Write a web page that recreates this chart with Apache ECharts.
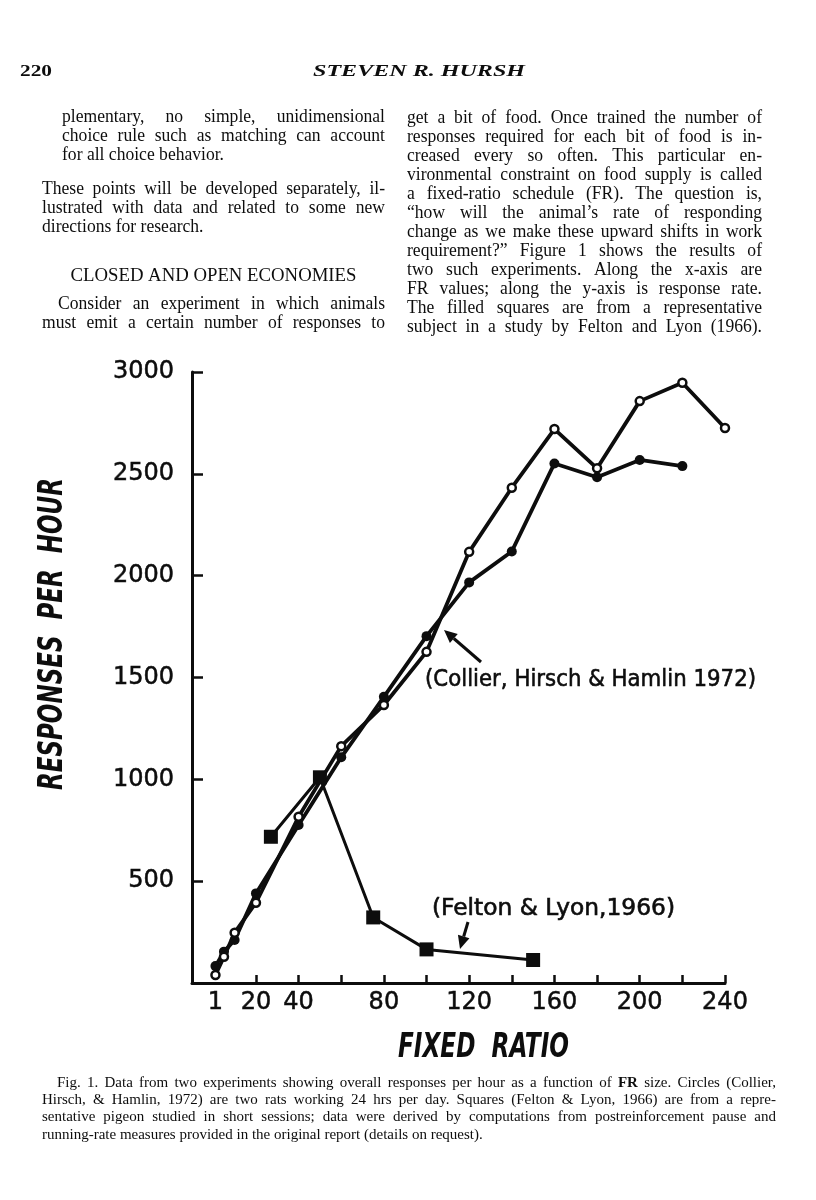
<!DOCTYPE html>
<html>
<head>
<meta charset="utf-8">
<script src="https://cdn.jsdelivr.net/npm/echarts@6/dist/echarts.min.js"></script>
<style>
html,body{margin:0;padding:0;background:#fff;}
#c{width:816px;height:1200px;}
</style>
</head>
<body>
<div id="c"></div>
<script>
// ---------------- DATA ----------------
// Collier, Hirsch & Hamlin (1972) rat 1 (open circles)
const frOpen   = [1, 5, 10, 20, 40, 60, 80, 100, 120, 140, 160, 180, 200, 220, 240];
const rateOpen = [39, 129, 247, 394, 816, 1163, 1365, 1626, 2117, 2432, 2720, 2527, 2857, 2947, 2725];
// Collier, Hirsch & Hamlin (1972) rat 2 (filled circles)
const frFilled   = [1, 5, 10, 20, 40, 60, 80, 100, 120, 140, 160, 180, 200, 220];
const rateFilled = [83, 154, 211, 440, 776, 1108, 1405, 1703, 1967, 2119, 2551, 2483, 2568, 2538];
// Felton & Lyon (1966) pigeon (filled squares)
const frSquare   = [27, 50, 75, 100, 150];
const rateSquare = [718, 1010, 322, 165, 113];

const xTickValues  = [20, 40, 60, 80, 100, 120, 140, 160, 180, 200, 220, 240];
const xLabelValues = [1, 20, 40, 80, 120, 160, 200, 240];
const yLabelValues = [500, 1000, 1500, 2000, 2500, 3000];

const xTitle = 'FIXED  RATIO';
const yTitle = 'RESPONSES  PER  HOUR';
const noteCollier = '(Collier, Hirsch & Hamlin 1972)';
const noteFelton = '(Felton & Lyon,1966)';

const headerPage = '220';
const headerAuthor = 'STEVEN R. HURSH';

const leftCol = [
  {t:'plementary, no simple, unidimensional', j:true, ind:20},
  {t:'choice rule such as matching can account', j:true, ind:20},
  {t:'for all choice behavior.', j:false, ind:20},
  {gap:15},
  {t:'These points will be developed separately, il-', j:true, ind:0},
  {t:'lustrated with data and related to some new', j:true, ind:0},
  {t:'directions for research.', j:false, ind:0},
  {gap:30},
  {t:'CLOSED AND OPEN ECONOMIES', c:true, w:286},
  {gap:9},
  {t:'Consider an experiment in which animals', j:true, ind:16},
  {t:'must emit a certain number of responses to', j:true, ind:0}
];
const rightCol = [
  'get a bit of food. Once trained the number of',
  'responses required for each bit of food is in-',
  'creased every so often. This particular en-',
  'vironmental constraint on food supply is called',
  'a fixed-ratio schedule (FR). The question is,',
  '\u201Chow will the animal\u2019s rate of responding',
  'change as we make these upward shifts in work',
  'requirement?\u201D Figure 1 shows the results of',
  'two such experiments. Along the x-axis are',
  'FR values; along the y-axis is response rate.',
  'The filled squares are from a representative',
  'subject in a study by Felton and Lyon (1966).'
];
const caption = [
  {t:'Fig. 1. Data from two experiments showing overall responses per hour as a function of **FR size. Circles (Collier,', j:true, ind:15},
  {t:'Hirsch, & Hamlin, 1972) are two rats working 24 hrs per day. Squares (Felton & Lyon, 1966) are from a repre-', j:true, ind:0},
  {t:'sentative pigeon studied in short sessions; data were derived by computations from postreinforcement pause and', j:true, ind:0},
  {t:'running-rate measures provided in the original report (details on request).', j:false, ind:0}
];

// ---------------- TEXT HELPERS ----------------
const INK = '#0d0d0d';
const mctx = document.createElement('canvas').getContext('2d');
function fstr(f){ return (f.style||'normal')+' '+(f.weight||'normal')+' '+f.size+'px '+f.family; }
function mw(text, f){ mctx.font = fstr(f); return mctx.measureText(text).width; }
function txt(str, x, y, f, extra){
  const st = {text:str, font:fstr(f), fill:INK, textAlign:'left', textVerticalAlign:'middle'};
  if (f.stroke) { st.stroke = INK; st.lineWidth = f.stroke; }
  const e = {type:'text', x:x, y:y, silent:true, z:100, style:st};
  if (extra) Object.assign(e, extra);
  return e;
}
function fitText(str, x, y, width, f, extra){
  const w = mw(str, f);
  return txt(str, x, y, f, Object.assign({scaleX: width / w}, extra||{}));
}
function lineWords(str, x0, x1, y, f, justify, out){
  const cond = f.cond || 1;
  const words = str.split(' ').filter(s=>s.length);
  const fonts = words.map(w => w.startsWith('**') ? Object.assign({}, f, {weight:'bold'}) : f);
  const clean = words.map(w => w.replace(/^\*\*/, ''));
  const ws = clean.map((w,i)=>mw(w, fonts[i]) * cond);
  const sum = ws.reduce((a,b)=>a+b,0);
  const n = words.length;
  const space = mw(' ', f) * cond;
  let gap = space, s = 1;
  if (justify && n > 1) {
    gap = (x1 - x0 - sum) / (n - 1);
    if (gap < space*0.8) { gap = space*0.8; s = (x1 - x0 - gap*(n-1)) / sum; }
  } else {
    const tot = sum + space*(n-1);
    if (tot > x1 - x0) s = (x1 - x0 - space*(n-1)) / sum;
  }
  let x = x0;
  clean.forEach((w,i)=>{
    out.push(txt(w, x, y, fonts[i], {scaleX:s*cond}));
    x += ws[i]*s + gap;
  });
}

const bodyFont = {family:'Liberation Serif', size:18.5, cond:0.95};
const capFont = {family:'Liberation Serif', size:15, cond:1.0};
const graphics = [];

// header
graphics.push(fitText(headerPage, 20, 72, 32, {family:'Liberation Serif', size:17, weight:'bold'}));
graphics.push(fitText(headerAuthor, 313, 72, 212, {family:'Liberation Serif', size:17, style:'italic', weight:'bold'}));

// left column
(function(){
  const L = 42, R = 385, lh = 19;
  let y = 117;
  leftCol.forEach(l=>{
    if (l.gap !== undefined) { y += l.gap; return; }
    if (l.c) {
      graphics.push(fitText(l.t, (L+R)/2 - l.w/2, y, l.w, bodyFont));
    } else {
      lineWords(l.t, L + l.ind, R, y, bodyFont, l.j, graphics);
    }
    y += lh;
  });
})();
// right column
(function(){
  const L = 407, R = 762, lh = 19;
  rightCol.forEach((t,i)=> lineWords(t, L, R, 118 + i*lh, bodyFont, true, graphics));
})();
// caption
(function(){
  const L = 42, R = 776, lh = 17.2;
  caption.forEach((l,i)=> lineWords(l.t, L + l.ind, R, 1083 + i*lh, capFont, l.j, graphics));
})();

// axis titles
const titleFont = {family:'DejaVu Sans Condensed', size:34, weight:'bold', style:'italic'};
graphics.push(fitText(xTitle, 398, 1048, 171, {family:'DejaVu Sans Condensed', size:33, weight:'bold', style:'italic'}));
graphics.push(fitText(yTitle, 53, 790, 312, titleFont, {rotation: Math.PI/2}));

// annotations
const noteFont = {family:'DejaVu Sans', size:23, stroke:0.6};
graphics.push(fitText(noteCollier, 425, 680, 331, noteFont));
graphics.push(fitText(noteFelton, 432, 909, 243, noteFont));

function arrow(x0,y0,x1,y1,out){
  const dx = x1-x0, dy = y1-y0, L = Math.hypot(dx,dy), ux = dx/L, uy = dy/L;
  const hl = 13, hw = 6;
  const bx = x1 - ux*hl, by = y1 - uy*hl;
  out.push({type:'line', silent:true, z:100, shape:{x1:x0,y1:y0,x2:bx,y2:by}, style:{stroke:INK, lineWidth:3}});
  out.push({type:'polygon', silent:true, z:100, shape:{points:[[x1,y1],[bx - uy*hw, by + ux*hw],[bx + uy*hw, by - ux*hw]]}, style:{fill:INK}});
}
arrow(481, 662, 444, 630, graphics);
arrow(468, 922, 460, 949, graphics);

// ---------------- CHART ----------------
const chart = echarts.init(document.getElementById('c'), null, {renderer:'canvas'});
const axisFont = {fontFamily:'DejaVu Sans', fontSize:24, color:INK, textBorderColor:INK, textBorderWidth:0.5};
chart.setOption({
  backgroundColor:'#ffffff',
  animation:false,
  grid:{left:192, top:372, width:533, height:611, containLabel:false, outerBoundsMode:'none'},
  xAxis:{
    type:'value', min:-10, max:240,
    axisLine:{onZero:false, lineStyle:{color:INK, width:3}},
    axisTick:{show:true, inside:true, length:8, customValues:xTickValues, lineStyle:{color:INK, width:2.5}},
    axisLabel:Object.assign({customValues:xLabelValues, margin:8, formatter:v=>String(v)}, axisFont),
    splitLine:{show:false}
  },
  yAxis:{
    type:'value', min:0, max:3000, interval:500,
    axisLine:{show:true, onZero:false, lineStyle:{color:INK, width:3}},
    axisTick:{show:true, inside:true, length:11, customValues:yLabelValues, lineStyle:{color:INK, width:2.5}},
    axisLabel:Object.assign({customValues:yLabelValues, margin:18, formatter:v=>String(v)}, axisFont),
    splitLine:{show:false}
  },
  series:[
    {type:'line', data:frOpen.map((x,i)=>[x, rateOpen[i]]), symbol:'circle', symbolSize:8, showSymbol:true,
     lineStyle:{color:INK, width:3.8}, itemStyle:{color:'#ffffff', borderColor:INK, borderWidth:2.5}, z:3},
    {type:'line', data:frFilled.map((x,i)=>[x, rateFilled[i]]), symbol:'circle', symbolSize:10, showSymbol:true,
     lineStyle:{color:INK, width:3.8}, itemStyle:{color:INK}, z:2},
    {type:'line', data:frSquare.map((x,i)=>[x, rateSquare[i]]), symbol:'rect', symbolSize:14, showSymbol:true,
     lineStyle:{color:INK, width:3}, itemStyle:{color:INK}, z:4}
  ],
  graphic:{elements:graphics}
});
</script>
</body>
</html>
